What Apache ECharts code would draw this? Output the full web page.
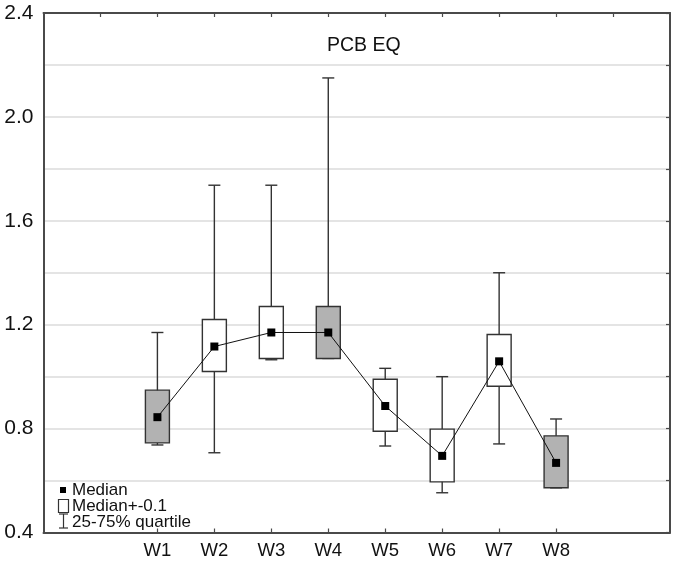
<!DOCTYPE html>
<html>
<head>
<meta charset="utf-8">
<script src="https://cdn.jsdelivr.net/npm/echarts@6/dist/echarts.min.js"></script>
<style>
html,body{margin:0;padding:0;background:#fff;}
#chart{width:675px;height:564px;}
</style>
</head>
<body>
<div id="chart"></div>
<script>
const categories = ['W1', 'W2', 'W3', 'W4', 'W5', 'W6', 'W7', 'W8'];
const medians   = [0.844, 1.116, 1.170, 1.170, 0.887, 0.695, 1.059, 0.668];
const boxLow    = [0.745, 1.020, 1.070, 1.070, 0.790, 0.595, 0.963, 0.572];
const boxHigh   = [0.948, 1.220, 1.270, 1.270, 0.990, 0.798, 1.162, 0.772];
const q25       = [0.737, 0.707, 1.065, 1.070, 0.733, 0.553, 0.741, 0.572];
const q75       = [1.170, 1.737, 1.737, 2.150, 1.032, 1.000, 1.400, 0.837];
const shaded    = [1, 0, 0, 1, 0, 0, 0, 1];
const yTickLabels = [0.4, 0.8, 1.2, 1.6, 2.0, 2.4];
const titleText = 'PCB EQ';
const legendLabels = ['Median', 'Median+-0.1', '25-75% quartile'];

// padded slots so the categories sit at positions 2..9 of an 11-unit-wide axis
const axisSlots = ['_a', '_b'].concat(categories, ['_c', '_d']);

const FONT = "'Liberation Sans', Arial, Helvetica, sans-serif";
const BORDER = '#4a4a4a';
const chart = echarts.init(document.getElementById('chart'), null, {renderer: 'canvas'});

const whiskerData = categories.map((c, i) => [c, q25[i], q75[i]]);
const boxData = categories.map((c, i) => [c, boxLow[i], boxHigh[i], shaded[i]]);
const medianData = categories.map((c, i) => [c, medians[i]]);

const axisLineStyle = {show: true, lineStyle: {color: BORDER, width: 2}};

const option = {
  animation: false,
  backgroundColor: '#fff',
  title: {
    text: titleText,
    left: 322, top: 31,
    textStyle: {fontFamily: FONT, fontSize: 19.5, fontWeight: 'normal', color: '#111'}
  },
  grid: {left: 43.5, right: 5, top: 13, bottom: 31.5, containLabel: false},
  xAxis: [{
    type: 'category', data: axisSlots, boundaryGap: false, position: 'bottom',
    axisLine: axisLineStyle,
    axisTick: {show: true, inside: true, length: 4, lineStyle: {color: BORDER, width: 1.2},
      interval: (i, v) => categories.indexOf(v) >= 0},
    axisLabel: {interval: 0, margin: 9, fontFamily: FONT, fontSize: 18.5, color: '#111',
      formatter: v => categories.indexOf(v) >= 0 ? v : ''},
    splitLine: {show: false}
  }, {
    type: 'category', data: axisSlots, boundaryGap: false, position: 'top',
    axisLine: axisLineStyle,
    axisTick: {show: true, inside: true, length: 4, lineStyle: {color: BORDER, width: 1.2},
      interval: (i) => i >= 1 && i <= axisSlots.length - 2},
    axisLabel: {show: false},
    splitLine: {show: false}
  }],
  yAxis: [{
    type: 'value', min: 0.4, max: 2.4, interval: 0.2, position: 'left',
    axisLine: axisLineStyle,
    axisTick: {show: false},
    axisLabel: {margin: 10, fontFamily: FONT, fontSize: 21, color: '#111',
      formatter: v => yTickLabels.some(t => Math.abs(t - v) < 1e-6) ? v.toFixed(1) : ''},
    splitLine: {show: true, lineStyle: {color: '#e4e4e4', width: 2}}
  }, {
    type: 'value', min: 0.4, max: 2.4, interval: 0.2, position: 'right',
    axisLine: axisLineStyle,
    axisTick: {show: true, inside: true, length: 4, lineStyle: {color: BORDER, width: 1.2}},
    axisLabel: {show: false},
    splitLine: {show: false}
  }],
  series: [{
    name: legendLabels[2],
    type: 'custom',
    xAxisIndex: 0, yAxisIndex: 0,
    data: whiskerData,
    z: 2,
    renderItem: function (params, api) {
      const x = api.value(0);
      const lo = api.coord([x, api.value(1)]);
      const hi = api.coord([x, api.value(2)]);
      const cw = 6;
      const st = {stroke: '#333', lineWidth: 1.4};
      return {type: 'group', children: [
        {type: 'line', shape: {x1: lo[0], y1: lo[1], x2: hi[0], y2: hi[1]}, style: st},
        {type: 'line', shape: {x1: lo[0] - cw, y1: lo[1], x2: lo[0] + cw, y2: lo[1]}, style: st},
        {type: 'line', shape: {x1: hi[0] - cw, y1: hi[1], x2: hi[0] + cw, y2: hi[1]}, style: st}
      ]};
    }
  }, {
    name: legendLabels[1],
    type: 'custom',
    xAxisIndex: 0, yAxisIndex: 0,
    data: boxData,
    z: 3,
    renderItem: function (params, api) {
      const x = api.value(0);
      const lo = api.coord([x, api.value(1)]);
      const hi = api.coord([x, api.value(2)]);
      const w = 24;
      return {
        type: 'rect',
        shape: {x: lo[0] - w / 2, y: hi[1], width: w, height: lo[1] - hi[1]},
        style: {fill: api.value(3) ? '#b2b2b2' : '#ffffff', stroke: '#333', lineWidth: 1.4}
      };
    }
  }, {
    name: legendLabels[0],
    type: 'line',
    xAxisIndex: 0, yAxisIndex: 0,
    data: medianData,
    z: 4,
    symbol: 'rect', symbolSize: 8,
    itemStyle: {color: '#000'},
    lineStyle: {color: '#111', width: 1}
  }],
  graphic: [
    {type: 'rect', shape: {x: 60, y: 487, width: 6, height: 6}, style: {fill: '#000'}},
    {type: 'text', x: 72, y: 490, style: {text: legendLabels[0], font: '17px ' + FONT, fill: '#111', textVerticalAlign: 'middle'}},
    {type: 'rect', shape: {x: 58.5, y: 499.5, width: 10, height: 13}, style: {fill: '#fff', stroke: '#333', lineWidth: 1.2}},
    {type: 'text', x: 72, y: 506, style: {text: legendLabels[1], font: '17px ' + FONT, fill: '#111', textVerticalAlign: 'middle'}},
    {type: 'line', shape: {x1: 63.5, y1: 514, x2: 63.5, y2: 528}, style: {stroke: '#333', lineWidth: 1.2}},
    {type: 'line', shape: {x1: 59, y1: 514, x2: 68, y2: 514}, style: {stroke: '#333', lineWidth: 1.2}},
    {type: 'line', shape: {x1: 59, y1: 528, x2: 68, y2: 528}, style: {stroke: '#333', lineWidth: 1.2}},
    {type: 'text', x: 72, y: 522, style: {text: legendLabels[2], font: '17px ' + FONT, fill: '#111', textVerticalAlign: 'middle'}}
  ]
};
chart.setOption(option);
</script>
</body>
</html>
